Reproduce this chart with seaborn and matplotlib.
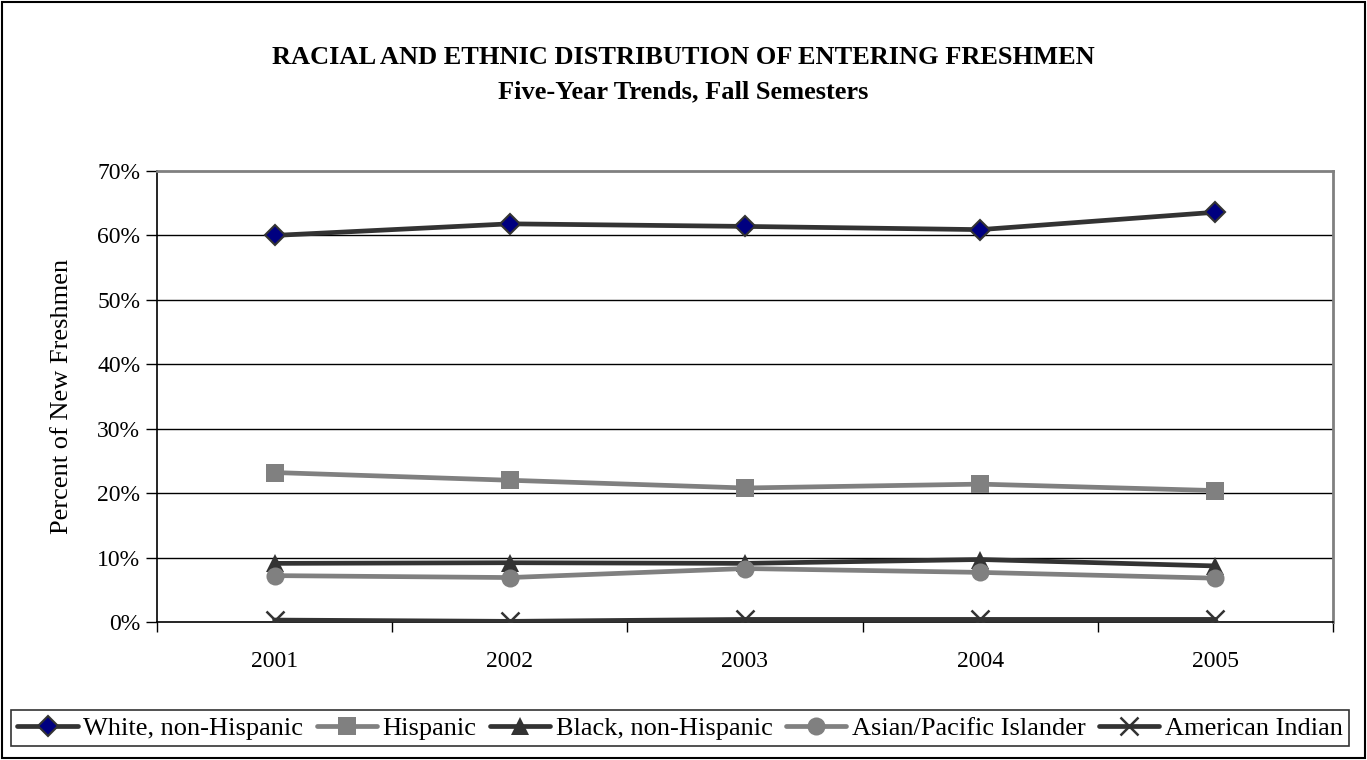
import matplotlib
matplotlib.use('Agg')
import matplotlib.pyplot as plt
import seaborn as sns
import pandas as pd
from matplotlib.patches import Rectangle
from matplotlib.ticker import FixedLocator, FuncFormatter

# ---- data ----
years = ['2001', '2002', '2003', '2004', '2005']
white = [60.0, 61.8, 61.4, 60.9, 63.6]
hispanic = [23.2, 22.0, 20.8, 21.4, 20.4]
black = [9.1, 9.2, 9.1, 9.7, 8.7]
asian = [7.2, 6.9, 8.3, 7.7, 6.8]
american_indian = [0.3, 0.1, 0.4, 0.4, 0.4]
series_names = ['White, non-Hispanic', 'Hispanic', 'Black, non-Hispanic',
                'Asian/Pacific Islander', 'American Indian']
yticks = [0, 10, 20, 30, 40, 50, 60, 70]

series_values = [white, hispanic, black, asian, american_indian]
rows = []
for name, vals in zip(series_names, series_values):
    for i, (yr, v) in enumerate(zip(years, vals)):
        rows.append({'series': name, 'year': yr, 'pos': i, 'value': v})
df = pd.DataFrame(rows)

sns.set_theme(style='white')
plt.rcParams['font.family'] = ['Liberation Serif', 'DejaVu Serif']
plt.rcParams['text.color'] = 'black'
plt.rcParams['axes.labelcolor'] = 'black'
plt.rcParams['xtick.color'] = 'black'
plt.rcParams['ytick.color'] = 'black'

fig = plt.figure(figsize=(13.67, 7.60), dpi=100)
ax = fig.add_axes([157/1367, 1-622/760, (1333-157)/1367, (622-171)/760])

styles = {
    'White, non-Hispanic': dict(color='#333333', marker='D', markersize=10.5,
                                markerfacecolor='#000080', markeredgecolor='#333333',
                                markeredgewidth=1.5),
    'Hispanic': dict(color='#808080', marker='s', markersize=13,
                     markerfacecolor='#808080', markeredgecolor='#808080', markeredgewidth=0),
    'Black, non-Hispanic': dict(color='#333333', marker='^', markersize=13,
                                markerfacecolor='#333333', markeredgecolor='#333333', markeredgewidth=0),
    'Asian/Pacific Islander': dict(color='#808080', marker='o', markersize=13,
                                   markerfacecolor='#808080', markeredgecolor='#808080', markeredgewidth=0),
    'American Indian': dict(color='#333333', marker='x', markersize=13,
                            markerfacecolor='#333333', markeredgecolor='#333333', markeredgewidth=1.8),
}

for name in series_names:
    sub = df[df['series'] == name]
    st = styles[name]
    sns.lineplot(data=sub, x='pos', y='value', ax=ax, label=name,
                 color=st['color'], linewidth=3.4, marker=st['marker'],
                 markersize=st['markersize'], markerfacecolor=st['markerfacecolor'],
                 markeredgecolor=st['markeredgecolor'], markeredgewidth=st['markeredgewidth'],
                 zorder=3)

ax.set_xlim(-0.5, len(years) - 0.5)
ax.set_ylim(0, 70)
ax.set_xlabel('')
ax.set_ylabel('Percent of New Freshmen', fontsize=19)
ax.yaxis.set_label_coords((73 - 157) / 1176, 0.5)

ax.xaxis.set_major_locator(FixedLocator(list(range(len(years)))))
ax.set_xticklabels(years, fontsize=17)
ax.xaxis.set_minor_locator(FixedLocator([i - 0.5 for i in range(len(years) + 1)]))
ax.tick_params(axis='x', which='major', length=0, pad=21)
ax.tick_params(axis='x', which='minor', length=7, width=1, color='black', direction='out', bottom=True)

ax.yaxis.set_major_locator(FixedLocator(yticks))
ax.yaxis.set_major_formatter(FuncFormatter(lambda v, p: f'{int(v)}%'))
ax.tick_params(axis='y', which='major', length=8, width=1, color='black', direction='out', left=True,
               labelsize=17, pad=4)

for y in yticks[1:-1]:
    ax.axhline(y, color='black', linewidth=1, zorder=1)

ax.spines['left'].set_color('black')
ax.spines['left'].set_linewidth(1.2)
ax.spines['bottom'].set_color('black')
ax.spines['bottom'].set_linewidth(1.2)
ax.spines['top'].set_color('#808080')
ax.spines['top'].set_linewidth(2)
ax.spines['right'].set_color('#808080')
ax.spines['right'].set_linewidth(2)
for s in ax.spines.values():
    s.set_visible(True)

fig.text(0.5, 1-58/760, 'RACIAL AND ETHNIC DISTRIBUTION OF ENTERING FRESHMEN',
         ha='center', va='center', fontsize=19, fontweight='bold', color='black')
fig.text(0.5, 1-92/760, 'Five-Year Trends, Fall Semesters',
         ha='center', va='center', fontsize=19, fontweight='bold', color='black')

handles, labels = ax.get_legend_handles_labels()
leg = ax.legend(handles, labels, loc='center', bbox_to_anchor=(680/1367, 1-728/760),
                bbox_transform=fig.transFigure, ncol=5, frameon=True, fancybox=False,
                edgecolor='black', fontsize=19, handlelength=2.3, handletextpad=0.2,
                columnspacing=0.5, borderpad=0.25, borderaxespad=0)
leg.get_frame().set_linewidth(1.2)
for t in leg.get_texts():
    t.set_color('black')

fig.patches.append(Rectangle((2/1367, 2/760), 1363/1367, 756/760, transform=fig.transFigure,
                             fill=False, edgecolor='black', linewidth=1.5))

fig.savefig('out.png', dpi=100)
